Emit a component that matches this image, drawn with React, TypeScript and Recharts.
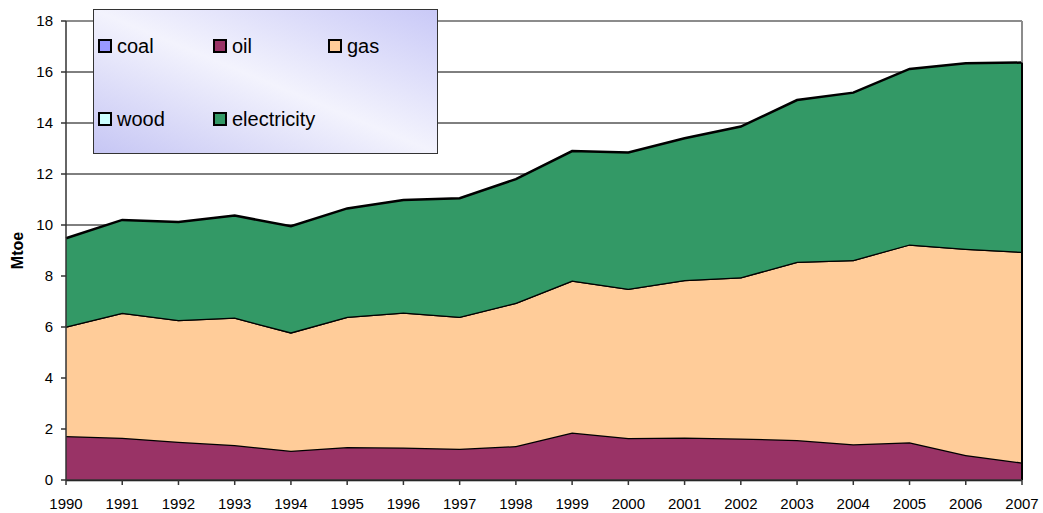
import React from "react";
import {
  AreaChart,
  Area,
  XAxis,
  YAxis,
  CartesianGrid,
  ReferenceLine,
} from "recharts";

const YEARS = [
  "1990", "1991", "1992", "1993", "1994", "1995", "1996", "1997", "1998",
  "1999", "2000", "2001", "2002", "2003", "2004", "2005", "2006", "2007",
];

const COAL = [0, 0, 0, 0, 0, 0, 0, 0, 0, 0, 0, 0, 0, 0, 0, 0, 0, 0];
const OIL = [
  1.73, 1.66, 1.5, 1.37, 1.15, 1.29, 1.27, 1.23, 1.33, 1.86, 1.65, 1.67, 1.63,
  1.57, 1.4, 1.48, 0.98, 0.69,
];
const GAS = [
  4.29, 4.9, 4.77, 5.0, 4.64, 5.11, 5.3, 5.17, 5.62, 5.96, 5.85, 6.17, 6.32,
  6.99, 7.23, 7.76, 8.09, 8.26,
];
const WOOD = [0, 0, 0, 0, 0, 0, 0, 0, 0, 0, 0, 0, 0, 0, 0, 0, 0, 0];
const ELECTRICITY = [
  3.46, 3.64, 3.85, 4.0, 4.16, 4.25, 4.41, 4.65, 4.85, 5.08, 5.34, 5.56, 5.91,
  6.34, 6.56, 6.88, 7.27, 7.42,
];

const Y_TICKS = [0, 2, 4, 6, 8, 10, 12, 14, 16, 18];

const SERIES = [
  { key: "coal", label: "coal", color: "#9999FF" },
  { key: "oil", label: "oil", color: "#993366" },
  { key: "gas", label: "gas", color: "#FFCC99" },
  { key: "wood", label: "wood", color: "#CCFFFF" },
  { key: "electricity", label: "electricity", color: "#339966" },
];

const data = YEARS.map((year, i) => ({
  year,
  coal: COAL[i],
  oil: OIL[i],
  gas: GAS[i],
  wood: WOOD[i],
  electricity: ELECTRICITY[i],
}));

const last = YEARS.length - 1;
const lastTotal =
  COAL[last] + OIL[last] + GAS[last] + WOOD[last] + ELECTRICITY[last];

const FONT = "'Liberation Sans', Arial, sans-serif";

const LegendBox = () => (
  <div
    style={{
      position: "absolute",
      left: 93,
      top: 9,
      width: 343,
      height: 143,
      border: "1px solid #333",
      background:
        "linear-gradient(to top right, #c6c6f4 0%, #f3f3fd 50%, #c9c9f7 100%)",
      fontFamily: FONT,
      fontSize: 20,
      color: "#000",
    }}
  >
    {SERIES.map((s, i) => (
      <div
        key={s.key}
        style={{
          position: "absolute",
          left: 4 + (i % 3) * 115,
          top: i < 3 ? 24 : 97,
          display: "flex",
          alignItems: "center",
          height: 24,
        }}
      >
        <span
          style={{
            display: "inline-block",
            width: 10,
            height: 10,
            border: "2px solid #000",
            background: s.color,
            marginRight: 5,
          }}
        />
        <span>{s.label}</span>
      </div>
    ))}
  </div>
);

export default function App() {
  return (
    <div
      style={{
        position: "absolute",
        left: 0,
        top: 0,
        width: 1043,
        height: 513,
        background: "#fff",
        fontFamily: FONT,
      }}
    >
      <AreaChart
        width={1043}
        height={513}
        data={data}
        margin={{ top: 21, right: 21, left: 0, bottom: 0 }}
      >
        <CartesianGrid vertical={false} stroke="#000" strokeWidth={1} />
        <XAxis
          dataKey="year"
          height={33}
          tickSize={5}
          tickMargin={13}
          interval={0}
          stroke="#333"
          strokeWidth={1.5}
          tick={{ fill: "#000", fontSize: 15, fontFamily: FONT }}
        />
        <YAxis
          width={66}
          domain={[0, 18]}
          ticks={Y_TICKS}
          tickSize={5}
          tickMargin={8}
          stroke="#333"
          strokeWidth={1.5}
          tick={{ fill: "#000", fontSize: 15, fontFamily: FONT }}
          label={{
            value: "Mtoe",
            angle: -90,
            position: "insideLeft",
            offset: 17,
            style: {
              fontWeight: "bold",
              fontSize: 16,
              fill: "#000",
              fontFamily: FONT,
              textAnchor: "middle",
            },
          }}
        />
        {SERIES.map((s) => (
          <Area
            key={s.key}
            type="linear"
            dataKey={s.key}
            name={s.label}
            stackId="1"
            fill={s.color}
            fillOpacity={1}
            stroke="#000"
            strokeWidth={2.5}
            isAnimationActive={false}
          />
        ))}
        <ReferenceLine y={18} stroke="#8c8c8c" strokeWidth={2} />
        <ReferenceLine
          segment={[
            { x: YEARS[last], y: lastTotal },
            { x: YEARS[last], y: 18 },
          ]}
          stroke="#8c8c8c"
          strokeWidth={2}
        />
        <ReferenceLine
          segment={[
            { x: YEARS[last], y: 0 },
            { x: YEARS[last], y: lastTotal },
          ]}
          stroke="#000"
          strokeWidth={2}
        />
      </AreaChart>
      <LegendBox />
    </div>
  );
}
